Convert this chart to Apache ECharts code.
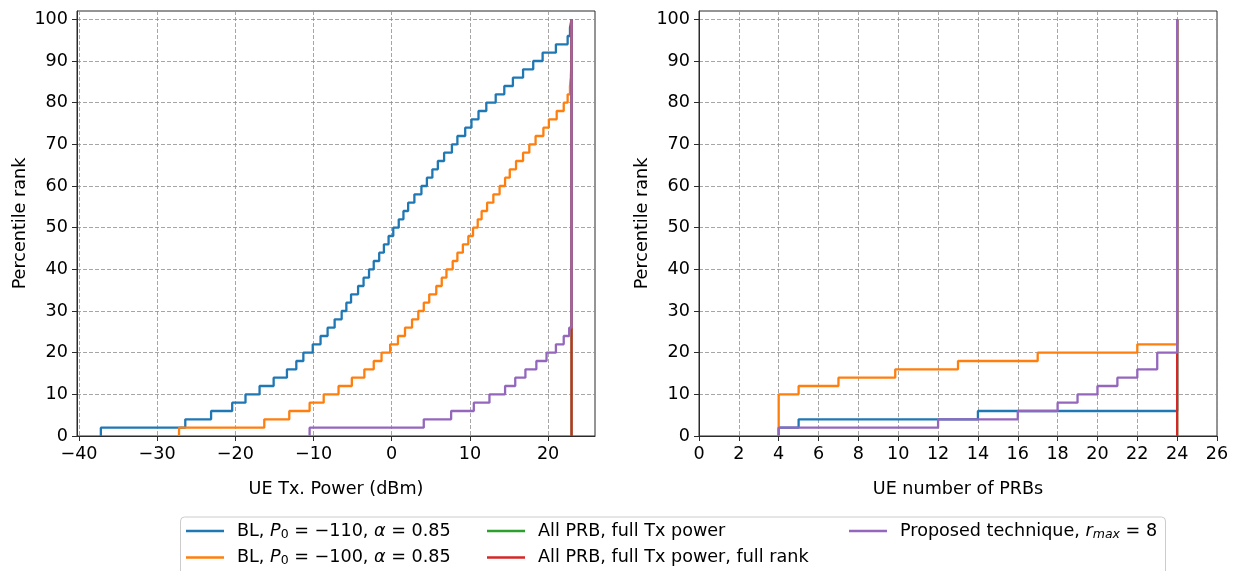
<!DOCTYPE html>
<html><head><meta charset="utf-8">
<script src="https://cdn.jsdelivr.net/npm/echarts@6/dist/echarts.min.js"></script>
<style>html,body{margin:0;padding:0;background:#fff}#c{width:1234px;height:571px}</style>
</head><body><div id="c"></div><script>
// ---- Data (sorted samples; each sample = 2 % of UEs) ----
const seriesNames = ['BL110', 'BL100', 'AllPRB', 'AllPRBRank', 'Proposed'];
const seriesColors = ['#1f77b4', '#ff7f0e', '#2ca02c', '#d62728', '#9467bd'];

// Left panel: UE Tx power (dBm)
const powerBL110 = [-37.2, -26.4, -23.1, -20.4, -18.7, -16.9, -15.1, -13.4, -12.2, -11.3,
  -10.1, -9.1, -8.2, -7.3, -6.4, -5.8, -5.2, -4.3, -3.6, -2.9,
  -2.3, -1.6, -1.0, -0.4, 0.2, 0.9, 1.5, 2.1, 2.9, 3.8,
  4.5, 5.2, 5.9, 6.7, 7.7, 8.4, 9.4, 10.2, 11.1, 12.1,
  13.3, 14.4, 15.5, 16.8, 18.1, 19.3, 21.0, 22.5, 22.8, 23.0];
const powerBL100 = [-27.2, -16.3, -13.1, -10.5, -8.7, -6.8, -5.1, -3.5, -2.3, -1.3,
  -0.2, 0.8, 1.7, 2.6, 3.4, 4.1, 4.8, 5.7, 6.4, 7.0,
  7.8, 8.4, 9.1, 9.8, 10.4, 11.0, 11.5, 12.2, 13.0, 13.8,
  14.5, 15.1, 15.9, 16.8, 17.6, 18.4, 19.4, 20.1, 21.1, 22.0,
  22.5, 22.8, 22.9, 22.95, 23, 23, 23, 23, 23, 23];
const powerAllPRB = [23, 23, 23, 23, 23, 23, 23, 23, 23, 23, 23, 23, 23, 23, 23, 23, 23, 23, 23, 23, 23, 23, 23, 23, 23,
  23, 23, 23, 23, 23, 23, 23, 23, 23, 23, 23, 23, 23, 23, 23, 23, 23, 23, 23, 23, 23, 23, 23, 23, 23];
const powerAllPRBRank = [23, 23, 23, 23, 23, 23, 23, 23, 23, 23, 23, 23, 23, 23, 23, 23, 23, 23, 23, 23, 23, 23, 23, 23, 23,
  23, 23, 23, 23, 23, 23, 23, 23, 23, 23, 23, 23, 23, 23, 23, 23, 23, 23, 23, 23, 23, 23, 23, 23, 23];
const powerProposed = [-10.5, 4.1, 7.6, 10.5, 12.5, 14.5, 15.8, 17.1, 18.5, 19.8,
  21.0, 22.0, 22.7, 23, 23, 23, 23, 23, 23, 23, 23, 23, 23, 23, 23,
  23, 23, 23, 23, 23, 23, 23, 23, 23, 23, 23, 23, 23, 23, 23, 23, 23, 23, 23, 23, 23, 23, 23, 23, 23];

// Right panel: UE number of PRBs
const prbBL110 = [4, 5, 14, 24, 24, 24, 24, 24, 24, 24, 24, 24, 24, 24, 24, 24, 24, 24, 24, 24, 24, 24, 24, 24, 24,
  24, 24, 24, 24, 24, 24, 24, 24, 24, 24, 24, 24, 24, 24, 24, 24, 24, 24, 24, 24, 24, 24, 24, 24, 24];
const prbBL100 = [4, 4, 4, 4, 4, 5, 7, 9.85, 13, 17, 22, 24, 24, 24, 24, 24, 24, 24, 24, 24, 24, 24, 24, 24, 24,
  24, 24, 24, 24, 24, 24, 24, 24, 24, 24, 24, 24, 24, 24, 24, 24, 24, 24, 24, 24, 24, 24, 24, 24, 24];
const prbAllPRB = [24, 24, 24, 24, 24, 24, 24, 24, 24, 24, 24, 24, 24, 24, 24, 24, 24, 24, 24, 24, 24, 24, 24, 24, 24,
  24, 24, 24, 24, 24, 24, 24, 24, 24, 24, 24, 24, 24, 24, 24, 24, 24, 24, 24, 24, 24, 24, 24, 24, 24];
const prbAllPRBRank = [24, 24, 24, 24, 24, 24, 24, 24, 24, 24, 24, 24, 24, 24, 24, 24, 24, 24, 24, 24, 24, 24, 24, 24, 24,
  24, 24, 24, 24, 24, 24, 24, 24, 24, 24, 24, 24, 24, 24, 24, 24, 24, 24, 24, 24, 24, 24, 24, 24, 24];
const prbProposed = [4, 12, 16, 18, 19, 20, 21, 22, 23, 23, 24, 24, 24, 24, 24, 24, 24, 24, 24, 24, 24, 24, 24, 24, 24,
  24, 24, 24, 24, 24, 24, 24, 24, 24, 24, 24, 24, 24, 24, 24, 24, 24, 24, 24, 24, 24, 24, 24, 24, 24];

// Tick labels
const powerTicks = [-40, -30, -20, -10, 0, 10, 20];
const prbTicks = [0, 2, 4, 6, 8, 10, 12, 14, 16, 18, 20, 22, 24, 26];
const rankTicks = [0, 10, 20, 30, 40, 50, 60, 70, 80, 90, 100];

const legendLabels = {
  BL110: 'BL, {i|P}{sub|0}{n| = −110, }{i|α}{n| = 0.85}',
  BL100: 'BL, {i|P}{sub|0}{n| = −100, }{i|α}{n| = 0.85}',
  AllPRB: 'All PRB, full Tx power',
  AllPRBRank: 'All PRB, full Tx power, full rank',
  Proposed: 'Proposed technique, {i|r}{subi|max}{n| = 8}'
};

// empirical CDF (percentile rank) of sorted samples
function cdf(samples) {
  const n = samples.length;
  const pts = samples.map((x, i) => [x, 100 * i / n]);
  pts.push([samples[n - 1], 100]);
  return pts;
}

const FONT = 'DejaVu Sans';
const FS = 17.6;
const AX = '#2b2b2b';

function valueAxis(min, max, ticks, name, gridIndex, nameGap, isY) {
  return {
    type: 'value', gridIndex, min, max, name,
    nameLocation: 'middle', nameGap,
    nameTextStyle: { fontFamily: FONT, fontSize: FS, color: '#000' },
    axisLine: { show: true, onZero: false, lineStyle: { color: AX, width: 1 } },
    axisTick: { show: true, inside: false, length: 5, customValues: ticks, lineStyle: { color: AX, width: 1 } },
    axisLabel: {
      customValues: ticks, fontFamily: FONT, fontSize: FS, color: '#000', margin: isY ? 9 : 9,
      formatter: v => String(v).replace('-', '\u2212')
    },
    splitLine: { show: true, lineStyle: { color: '#8f8f8f', type: [4, 2], width: 0.8 } }
  };
}

const powerSets = [powerBL110, powerBL100, powerAllPRB, powerAllPRBRank, powerProposed];
const prbSets = [prbBL110, prbBL100, prbAllPRB, prbAllPRBRank, prbProposed];

const series = [];
[powerSets, prbSets].forEach((sets, gi) => {
  sets.forEach((s, k) => {
    series.push({
      type: 'line', name: seriesNames[k], xAxisIndex: gi, yAxisIndex: gi,
      data: cdf(s), step: 'start', showSymbol: false, symbol: 'none',
      lineStyle: { color: seriesColors[k], width: 2.3 }, itemStyle: { color: seriesColors[k] },
      animation: false, clip: true
    });
  });
});

const legendText = {
  fontFamily: FONT, fontSize: FS, color: '#000', lineHeight: 20, padding: [0, 0, 0, 8],
  rich: {
    n: { fontFamily: FONT, fontSize: FS, color: '#000', lineHeight: 20 },
    i: { fontFamily: FONT, fontSize: FS, fontStyle: 'italic', color: '#000', lineHeight: 20 },
    sub: { fontFamily: FONT, fontSize: 12.5, color: '#000', lineHeight: 12, verticalAlign: 'bottom' },
    subi: { fontFamily: FONT, fontSize: 12.5, fontStyle: 'italic', color: '#000', lineHeight: 12, verticalAlign: 'bottom' }
  }
};
function legendCol(left, names) {
  return {
    orient: 'vertical', left, top: 521, padding: 0, itemWidth: 38, itemHeight: 2.5, itemGap: 6.5,
    icon: 'rect', data: names, formatter: n => legendLabels[n], textStyle: legendText,
    selectedMode: false
  };
}

const chart = echarts.init(document.getElementById('c'), null, { renderer: 'canvas' });
chart.setOption({
  animation: false,
  backgroundColor: '#fff',
  grid: [
    { left: 77, top: 11, width: 518, height: 425, show: true, borderColor: AX, borderWidth: 1, backgroundColor: 'transparent' },
    { left: 699, top: 11, width: 518, height: 425, show: true, borderColor: AX, borderWidth: 1, backgroundColor: 'transparent' }
  ],
  xAxis: [
    valueAxis(-40.25, 26, powerTicks, 'UE Tx. Power (dBm)', 0, 44, false),
    valueAxis(0, 26, prbTicks, 'UE number of PRBs', 1, 44, false)
  ],
  yAxis: [
    valueAxis(0, 102, rankTicks, 'Percentile rank', 0, 48, true),
    valueAxis(0, 102, rankTicks, 'Percentile rank', 1, 48, true)
  ],
  legend: [
    legendCol(186, ['BL110', 'BL100']),
    legendCol(487, ['AllPRB', 'AllPRBRank']),
    legendCol(849, ['Proposed'])
  ],
  graphic: [{
    type: 'rect', left: 180, top: 516.5, z: 0,
    shape: { width: 985, height: 80, r: 4 },
    style: { fill: '#fff', stroke: '#cccccc', lineWidth: 1 }
  }],
  series
});
</script></body></html>
